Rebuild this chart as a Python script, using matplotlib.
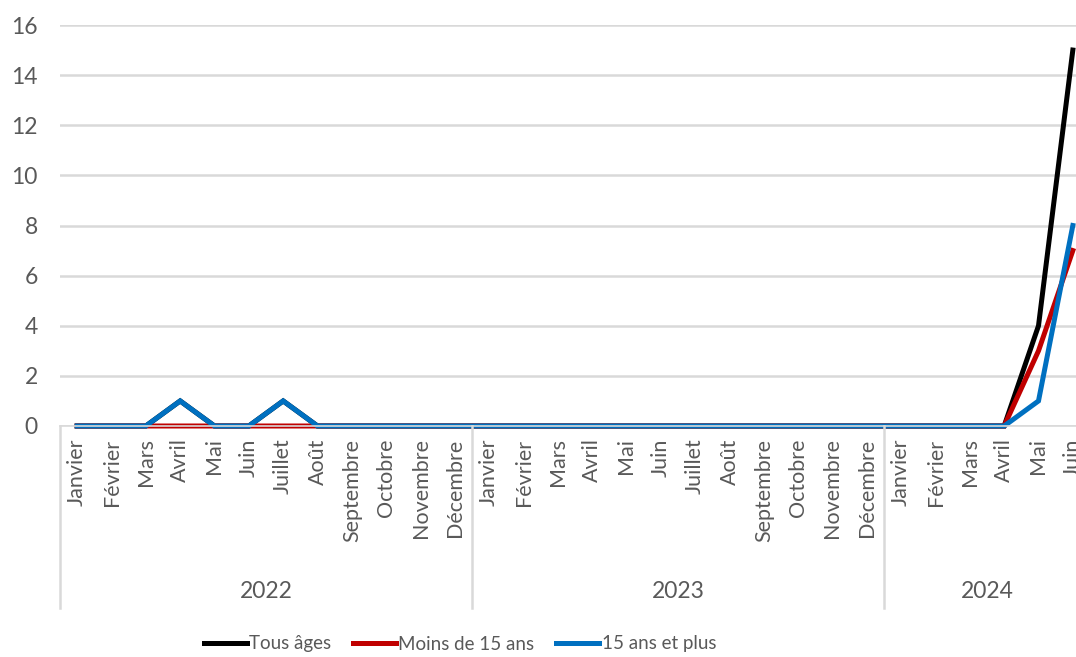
import matplotlib
matplotlib.use("Agg")
import matplotlib.pyplot as plt
from matplotlib.transforms import blended_transform_factory
import numpy as np

plt.rcParams['font.family'] = ['Lato', 'DejaVu Sans']

months_2022 = ["Janvier", "Février", "Mars", "Avril", "Mai", "Juin", "Juillet",
               "Août", "Septembre", "Octobre", "Novembre", "Décembre"]
months_2023 = list(months_2022)
months_2024 = ["Janvier", "Février", "Mars", "Avril", "Mai", "Juin"]
years = ["2022", "2023", "2024"]

tous_ages = [0, 0, 0, 1, 0, 0, 1, 0, 0, 0, 0, 0,
             0, 0, 0, 0, 0, 0, 0, 0, 0, 0, 0, 0,
             0, 0, 0, 0, 4, 15]
moins_15 = [0, 0, 0, 0, 0, 0, 0, 0, 0, 0, 0, 0,
            0, 0, 0, 0, 0, 0, 0, 0, 0, 0, 0, 0,
            0, 0, 0, 0, 3, 7]
plus_15 = [0, 0, 0, 1, 0, 0, 1, 0, 0, 0, 0, 0,
           0, 0, 0, 0, 0, 0, 0, 0, 0, 0, 0, 0,
           0, 0, 0, 0, 1, 8]

labels = months_2022 + months_2023 + months_2024
group_sizes = [len(months_2022), len(months_2023), len(months_2024)]
x = np.arange(len(labels))

W, H = 1076, 657
fig = plt.figure(figsize=(W / 100, H / 100), dpi=100)
left_px, right_px = 60, 1090
top_px, zero_px = 25, 426
ax = fig.add_axes([left_px / W, 1 - zero_px / H,
                   (right_px - left_px) / W, (zero_px - top_px) / H])

gray_txt = "#595959"
ax.set_ylim(0, 16)
ax.set_xlim(-0.5, len(labels) - 0.5)
ax.set_yticks(range(0, 17, 2))
ax.yaxis.grid(True, color="#D9D9D9", linewidth=1.8)
ax.set_axisbelow(True)
for s in ["top", "right", "left"]:
    ax.spines[s].set_visible(False)
ax.spines["bottom"].set_color("#D9D9D9")
ax.spines["bottom"].set_linewidth(1.2)
ax.tick_params(axis="y", length=0, pad=16, labelsize=16.5, labelcolor=gray_txt)
ax.tick_params(axis="x", length=0, pad=9, labelsize=15.5, labelcolor=gray_txt)
ax.set_xticks(x)
ax.set_xticklabels(labels, rotation=90, ha="center", va="top")

lw = 3.6
ax.plot(x, tous_ages, color="#000000", lw=lw, label="Tous âges", clip_on=False,
        solid_joinstyle="miter")
ax.plot(x, moins_15, color="#C00000", lw=lw, label="Moins de 15 ans", clip_on=False,
        solid_joinstyle="miter")
ax.plot(x, plus_15, color="#0070C0", lw=lw, label="15 ans et plus", clip_on=False,
        solid_joinstyle="miter")

trans = blended_transform_factory(ax.transData, ax.transAxes)
axh = zero_px - top_px
sep_bottom = -(608 - zero_px) / axh
bounds = np.concatenate([[0], np.cumsum(group_sizes)]) - 0.5
for b in bounds:
    ax.plot([b, b], [0, sep_bottom], transform=trans, color="#D9D9D9",
            lw=1.8, clip_on=False)
year_y = -(592 - zero_px) / axh
for i, yr in enumerate(years):
    cx = (bounds[i] + bounds[i + 1]) / 2
    ax.text(cx, year_y, yr, transform=trans, ha="center", va="center",
            fontsize=16.5, color=gray_txt)

leg = fig.legend(loc="center", bbox_to_anchor=(460 / W, 1 - 644 / H), ncol=3,
                 frameon=False, fontsize=13.5, handlelength=2.3,
                 handletextpad=0.12, columnspacing=1.15, borderaxespad=0)
for t in leg.get_texts():
    t.set_color(gray_txt)

fig.savefig("out.png", dpi=100)
